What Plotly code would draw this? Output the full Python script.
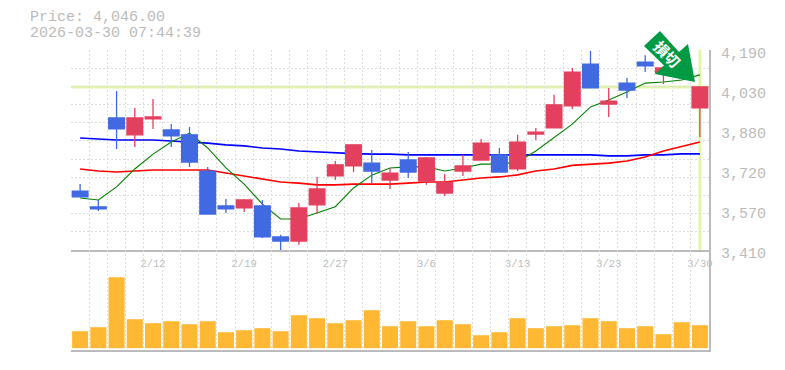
import plotly.graph_objects as go

dates = ["2026-02-05","2026-02-06","2026-02-09","2026-02-10","2026-02-12","2026-02-13","2026-02-16","2026-02-17","2026-02-18","2026-02-19",
         "2026-02-20","2026-02-24","2026-02-25","2026-02-26","2026-02-27","2026-03-02","2026-03-03","2026-03-04","2026-03-05","2026-03-06",
         "2026-03-09","2026-03-10","2026-03-11","2026-03-12","2026-03-13","2026-03-16","2026-03-17","2026-03-18","2026-03-19","2026-03-23",
         "2026-03-24","2026-03-25","2026-03-26","2026-03-27","2026-03-30"]
opens = [3640,3578,3925,3859,3921,3878,3859,3718,3582,3574,3582,3461,3445,3586,3699,3738,3749,3683,3761,3679,
         3632,3718,3761,3781,3726,3862,3886,3972,4135,3979,4061,4143,4100,4132,3964]
highs = [3667,3605,4030,3964,3999,3901,3890,3734,3609,3609,3605,3469,3593,3695,3757,3820,3800,3730,3792,3773,
         3706,3781,3843,3808,3859,3886,4015,4120,4186,4042,4081,4170,4128,4140,4046]
lows = [3617,3562,3804,3812,3882,3812,3734,3547,3554,3558,3457,3406,3430,3550,3683,3714,3671,3648,3691,3664,
        3621,3699,3761,3714,3718,3839,3886,3960,4042,3929,4003,4104,4057,4080,3851]
closes = [3617,3570,3882,3925,3929,3855,3753,3550,3570,3605,3461,3445,3574,3648,3742,3820,3718,3710,3714,3769,
          3675,3738,3827,3714,3831,3870,3976,4104,4042,3991,4034,4128,4120,4104,4046]
ma_short = [3613,3605,3656,3726,3784,3831,3866,3808,3730,3667,3589,3531,3531,3554,3579,3652,3702,3730,3734,3734,
            3718,3730,3745,3745,3753,3796,3847,3901,3968,3995,4026,4061,4065,4073,4093]
ma_mid = [3726,3718,3714,3718,3722,3722,3722,3722,3710,3699,3687,3675,3671,3664,3664,3667,3667,3667,3671,3675,
          3675,3683,3691,3695,3703,3718,3726,3740,3745,3749,3757,3773,3796,3812,3831]
ma_long = [3847,3843,3839,3839,3839,3835,3831,3827,3820,3816,3808,3804,3796,3792,3788,3786,3784,3784,3781,3781,
           3781,3781,3781,3781,3781,3781,3781,3781,3781,3777,3777,3781,3781,3785,3785]
volumes = [170,210,710,290,250,270,240,270,160,180,200,170,330,300,250,280,380,220,270,220,
           280,240,130,160,300,200,220,230,300,270,200,220,140,260,230]
price_ticks = [4190,4034,3878,3722,3566,3410]
price_labels = ["4,190","4,030","3,880","3,720","3,570","3,410"]
label_every = 5
header = ["Price: 4,046.00", "2026-03-30 07:44:39"]
badge = "損切"

W, H = 785, 370
L, R, T, B, MID = 71, 709, 50, 350, 250
def px(x): return (x - L) / (R - L)
def py(y): return (B - y) / (B - T)

UP, DOWN = "#e3405f", "#4169e1"
GRID = "#dddddd"
TXT = "#bbbbbb"
HL = "#e2f6a9"
MONO = "Liberation Mono"
idx = list(range(len(dates)))
pmax, pmin = max(price_ticks), min(price_ticks)
y_range = [pmin, pmax]
x_range = [-0.5, len(dates) - 0.5]
x_grid = [i - 0.5 for i in range(len(dates) + 1)]
y_grid = [pmin + (pmax - pmin) * i / 11 for i in range(12)]
tick_idx = [i for i in idx if (len(idx) - 1 - i) % label_every == 0]
tick_txt = ["%d/%d" % (int(dates[i][5:7]), int(dates[i][8:])) for i in tick_idx]
grid_style = dict(showgrid=True, gridcolor=GRID, gridwidth=1, griddash="2px,2px", ticks="")

fig = go.Figure()
fig.add_trace(go.Scatter(x=idx, y=ma_long, mode="lines", line=dict(color="#0000ff", width=1.6), xaxis="x", yaxis="y"))
fig.add_trace(go.Scatter(x=idx, y=ma_mid, mode="lines", line=dict(color="#ff0000", width=1.6), xaxis="x", yaxis="y"))
fig.add_trace(go.Scatter(x=idx, y=ma_short, mode="lines", line=dict(color="#008000", width=1.1), xaxis="x", yaxis="y"))
fig.add_trace(go.Candlestick(x=idx, open=opens, high=highs, low=lows, close=closes, xaxis="x", yaxis="y3",
    increasing=dict(line=dict(color=UP, width=1.3), fillcolor=UP),
    decreasing=dict(line=dict(color=DOWN, width=1.3), fillcolor=DOWN), whiskerwidth=0))
fig.add_trace(go.Bar(x=idx, y=volumes, marker=dict(color="#ffb833", line=dict(width=0)), xaxis="x2", yaxis="y2"))

shapes = [
    dict(type="line", xref="paper", yref="y", x0=0, x1=1, y0=closes[-1], y1=closes[-1],
         line=dict(color=HL, width=3), layer="below"),
    dict(type="line", xref="x", yref="y", x0=idx[-1], x1=idx[-1], y0=pmin, y1=pmax,
         line=dict(color=HL, width=3), layer="below"),
]
arrow = [(660,31),(644,46),(664,65.5),(655,74),(695,82),(688,44),(679,52)]
path = "M " + " L ".join("%.5f %.5f" % (px(a), py(b)) for a, b in arrow) + " Z"
shapes.append(dict(type="path", xref="paper", yref="paper", path=path, fillcolor="#009944", line=dict(width=0), layer="above"))

annotations = [
    dict(text=header[0], x=px(27.5), y=py(18), xref="paper", yref="paper", xanchor="left", yanchor="middle", showarrow=False,
         font=dict(family=MONO, size=15, color=TXT)),
    dict(text=header[1], x=px(27.5), y=py(33), xref="paper", yref="paper", xanchor="left", yanchor="middle", showarrow=False,
         font=dict(family=MONO, size=15, color=TXT)),
    dict(text="<b>%s</b>" % badge, x=px(667), y=py(54), xref="paper", yref="paper", xanchor="center", yanchor="middle", showarrow=False,
         textangle=45, font=dict(family="Noto Sans CJK JP", size=15, color="#ffffff")),
]

fig.update_layout(
    width=W, height=H, margin=dict(l=L, r=W - R, t=T, b=H - B, pad=0),
    paper_bgcolor="#ffffff", plot_bgcolor="#ffffff", showlegend=False, boxgap=0.14, boxgroupgap=0, bargap=0.12,
    shapes=shapes, annotations=annotations, hovermode=False,
    xaxis=dict(domain=[0, 1], range=x_range, anchor="y", tickmode="array", tickvals=tick_idx, ticktext=tick_txt,
               showgrid=False, showline=True, linecolor=TXT, linewidth=2, zeroline=False, ticks="", automargin=False,
               tickfont=dict(family=MONO, size=10.5, color=TXT), ticklabelstandoff=2,
               rangeslider=dict(visible=False), minor=dict(tickmode="array", tickvals=x_grid, **grid_style)),
    xaxis2=dict(domain=[0, 1], range=x_range, anchor="y2", showticklabels=False, showgrid=False, showline=True,
                linecolor=TXT, linewidth=2, zeroline=False, ticks="", automargin=False,
                minor=dict(tickmode="array", tickvals=x_grid, **grid_style)),
    yaxis=dict(domain=[(B - MID) / (B - T), 1], range=y_range, anchor="x", side="right", tickmode="array",
               tickvals=price_ticks, ticktext=price_labels, showgrid=False, zeroline=False, showline=True,
               linecolor=TXT, linewidth=2, ticks="", tickfont=dict(family=MONO, size=15, color=TXT),
               ticklabelstandoff=7, ticklabelshift=3, automargin=False,
               minor=dict(tickmode="array", tickvals=y_grid, **grid_style)),
    yaxis3=dict(range=y_range, overlaying="y", anchor="x", side="right", visible=False),
    yaxis2=dict(domain=[0, (B - MID) / (B - T)], range=[-18, 982], anchor="x2", side="right", showgrid=False,
                zeroline=False, showticklabels=False, showline=True, linecolor=TXT, linewidth=2, ticks=""),
)

fig.write_html("out.html", config={"displayModeBar": False},
               post_script="document.body.style.margin='0';document.documentElement.style.overflow='hidden';window.dispatchEvent(new Event('resize'));")
